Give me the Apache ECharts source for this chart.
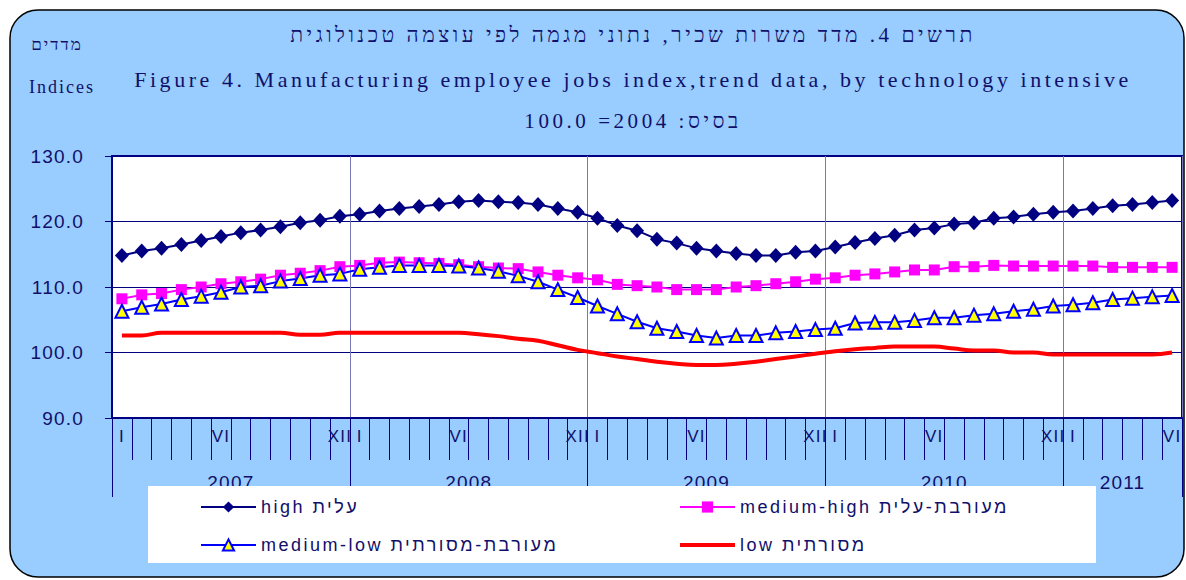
<!DOCTYPE html>
<html>
<head>
<meta charset="utf-8">
<title>Figure 4 - Manufacturing employee jobs index</title>
<script src="https://cdn.jsdelivr.net/npm/echarts@6.0.0/dist/echarts.min.js"></script>
<style>
  html, body { margin: 0; padding: 0; background: #fff; }
  #chart { width: 1186px; height: 580px; }
  /* the original prints its text letter-spaced */
  #chart text[style*="Liberation Serif"] { letter-spacing: 3.55px; }
  #chart text[style*="Times New Roman"] { letter-spacing: 2px; }
  #chart text[style*="Arial"] { letter-spacing: 1.2px; }
  #chart text[style*="Helvetica"] { letter-spacing: 2.5px; }
</style>
</head>
<body>
<div id="chart"></div>
<script>
  // months Jan 2007 .. Jun 2011
  const years = ['2007', '2008', '2009', '2010', '2011']
  const monthsInYear = [12, 12, 12, 12, 6]
  const romanMonths = { 1: 'I', 6: 'VI', 12: 'XII' }
  const yTicks = [90, 130, 10] // min, max, step

  const seriesNames = ['high עלית', 'medium-high מעורבת-עלית', 'medium-low מעורבת-מסורתית', 'low מסורתית']

  const high = [114.8, 115.5, 115.9, 116.5, 117.1, 117.7, 118.3, 118.7, 119.2, 119.8, 120.2, 120.8,
    121.1, 121.6, 122.0, 122.3, 122.6, 123.0, 123.2, 123.0, 122.9, 122.6, 122.0, 121.4,
    120.5, 119.4, 118.6, 117.3, 116.7, 115.9, 115.5, 115.1, 114.8, 114.8, 115.3, 115.5,
    116.1, 116.8, 117.4, 117.9, 118.7, 119.0, 119.6, 119.8, 120.5, 120.7, 121.1, 121.4,
    121.6, 122.0, 122.4, 122.6, 122.9, 123.2]
  const mediumHigh = [108.2, 108.8, 109.0, 109.6, 110.0, 110.5, 110.8, 111.2, 111.8, 112.1, 112.5, 113.1,
    113.3, 113.7, 113.8, 113.7, 113.6, 113.4, 113.1, 112.9, 112.8, 112.3, 111.8, 111.4,
    111.1, 110.4, 110.2, 110.0, 109.6, 109.6, 109.6, 110.0, 110.2, 110.5, 110.8, 111.2,
    111.4, 111.8, 112.0, 112.3, 112.6, 112.6, 113.1, 113.1, 113.3, 113.2, 113.2, 113.2,
    113.2, 113.2, 113.0, 113.0, 113.0, 113.0]
  const mediumLow = [106.3, 106.9, 107.4, 108.1, 108.6, 109.2, 110.0, 110.2, 110.9, 111.3, 111.8, 112.0,
    112.7, 113.0, 113.3, 113.3, 113.3, 113.2, 112.9, 112.4, 111.7, 110.8, 109.6, 108.4,
    107.1, 105.9, 104.7, 103.7, 103.2, 102.6, 102.2, 102.6, 102.6, 103.0, 103.2, 103.5,
    103.7, 104.5, 104.6, 104.6, 104.9, 105.3, 105.3, 105.7, 105.9, 106.3, 106.6, 107.1,
    107.3, 107.6, 108.1, 108.3, 108.5, 108.7]
  const low = [102.6, 102.6, 103.0, 103.0, 103.0, 103.0, 103.0, 103.0, 103.0, 102.7, 102.7, 103.0,
    103.0, 103.0, 103.0, 103.0, 103.0, 103.0, 102.8, 102.5, 102.1, 101.8, 101.1, 100.4,
    99.9, 99.4, 99.0, 98.6, 98.3, 98.1, 98.1, 98.3, 98.6, 99.0, 99.4, 99.8,
    100.2, 100.5, 100.7, 100.9, 100.9, 100.9, 100.6, 100.3, 100.3, 100.0, 100.0, 99.7,
    99.7, 99.7, 99.7, 99.7, 99.7, 100.0]

  const navy = '#000080'
  const ink = '#10106a'
  const axisFont = "'Liberation Sans Narrow', Arial"
  const legendFont = "'Liberation Sans Narrow', Helvetica"

  // category per month, year boundaries and year centres on a 0..n month scale
  let categories = []
  let monthLabels = []
  let yearBounds = [0]
  let yearMids = []
  years.forEach(function (y, i) {
    for (let m = 1; m <= monthsInYear[i]; m++) {
      categories.push(y + '-' + m)
      monthLabels.push(romanMonths[m] || '')
    }
    yearMids.push(yearBounds[i] + monthsInYear[i] / 2)
    yearBounds.push(yearBounds[i] + monthsInYear[i])
  })
  const totalMonths = categories.length

  const chart = echarts.init(document.getElementById('chart'), null, { renderer: 'svg' })

  chart.setOption({
    animation: false,
    backgroundColor: '#fff',
    graphic: [
      {
        type: 'rect', z: -10,
        shape: { x: 10, y: 10, width: 1174, height: 567, r: 28 },
        style: { fill: '#99CCFF', stroke: '#000', lineWidth: 1.5 }
      },
      {
        type: 'rect', z: 15,
        shape: { x: 148, y: 486, width: 948, height: 77 },
        style: { fill: '#fff' }
      },
      {
        type: 'text', z: 20,
        style: { text: 'תרשים 4. מדד משרות שכיר, נתוני מגמה לפי עוצמה טכנולוגית', x: 633, y: 35,
          font: "21px 'Liberation Serif'", fill: ink, textAlign: 'center', textVerticalAlign: 'middle' }
      },
      {
        type: 'text', z: 20,
        style: { text: 'Figure 4. Manufacturing employee jobs index,trend data, by technology intensive', x: 633, y: 79,
          font: "22px 'Liberation Serif'", fill: ink, textAlign: 'center', textVerticalAlign: 'middle' }
      },
      {
        type: 'text', z: 20,
        style: { text: '100.0 =2004 :בסיס', x: 633, y: 121,
          font: "21px 'Liberation Serif'", fill: ink, textAlign: 'center', textVerticalAlign: 'middle' }
      },
      {
        type: 'text', z: 20,
        style: { text: 'מדדים', x: 57, y: 44,
          font: "17px 'Times New Roman'", fill: ink, textAlign: 'center', textVerticalAlign: 'middle' }
      },
      {
        type: 'text', z: 20,
        style: { text: 'Indices', x: 62, y: 87,
          font: "18px 'Times New Roman'", fill: ink, textAlign: 'center', textVerticalAlign: 'middle' }
      }
    ],
    grid: {
      left: 112, right: 4, top: 156, bottom: 162,
      show: true, backgroundColor: '#fff', borderColor: navy, borderWidth: 2
    },
    legend: [
      {
        data: [seriesNames[0], seriesNames[2]],
        orient: 'vertical', left: 200, top: 497, padding: 0, itemGap: 18,
        itemWidth: 55, itemHeight: 14, selectedMode: false, z: 20,
        textStyle: { color: ink, fontSize: 18, fontFamily: legendFont, lineHeight: 20 }
      },
      {
        data: [seriesNames[1], { name: seriesNames[3], itemStyle: { opacity: 0 }, lineStyle: { width: 4 } }],
        orient: 'vertical', left: 678, top: 497, padding: 0, itemGap: 18,
        itemWidth: 55, itemHeight: 14, selectedMode: false, z: 20,
        textStyle: { color: ink, fontSize: 18, fontFamily: legendFont, lineHeight: 20 }
      }
    ],
    xAxis: [
      {
        type: 'category',
        data: categories,
        boundaryGap: true,
        axisLine: { show: true, lineStyle: { color: navy, width: 2 } },
        axisTick: { show: true, interval: 0, length: 42, lineStyle: { color: navy } },
        axisLabel: {
          interval: 0, margin: 10, color: ink, fontSize: 17, fontFamily: axisFont,
          formatter: function (v, i) { return monthLabels[i] }
        },
        splitLine: { show: false }
      },
      {
        type: 'value',
        position: 'bottom',
        min: 0, max: totalMonths, interval: 12,
        axisLine: { show: false },
        axisTick: { show: true, customValues: yearBounds, length: 79, lineStyle: { color: navy } },
        splitLine: { show: true, lineStyle: { color: '#7878b8', width: 1 } },
        axisLabel: {
          customValues: yearMids, margin: 55, color: ink, fontSize: 19, fontFamily: axisFont,
          formatter: function (v) { return years[yearMids.indexOf(v)] }
        }
      }
    ],
    yAxis: {
      type: 'value',
      min: yTicks[0], max: yTicks[1], interval: yTicks[2],
      axisLine: { show: true, lineStyle: { color: navy, width: 2 } },
      axisTick: { show: true, length: 7, lineStyle: { color: navy } },
      axisLabel: {
        margin: 28, color: ink, fontSize: 19, fontFamily: axisFont,
        formatter: function (v) { return v.toFixed(1) }
      },
      splitLine: { show: true, lineStyle: { color: navy, width: 1 } }
    },
    series: [
      {
        name: seriesNames[0], type: 'line', data: high,
        symbol: 'diamond', symbolSize: [14, 15],
        lineStyle: { color: navy, width: 2 },
        itemStyle: { color: navy }
      },
      {
        name: seriesNames[1], type: 'line', data: mediumHigh,
        symbol: 'rect', symbolSize: 11,
        lineStyle: { color: '#ff00ff', width: 2 },
        itemStyle: { color: '#ff00ff' }
      },
      {
        name: seriesNames[2], type: 'line', data: mediumLow,
        symbol: 'triangle', symbolSize: 13,
        lineStyle: { color: '#0000ff', width: 2 },
        itemStyle: { color: '#ffff00', borderColor: '#0000ff', borderWidth: 2 }
      },
      {
        name: seriesNames[3], type: 'line', data: low,
        symbol: 'none', smooth: 0.4,
        lineStyle: { color: '#ff0000', width: 4 },
        itemStyle: { color: '#ff0000' }
      }
    ]
  })
</script>
</body>
</html>
